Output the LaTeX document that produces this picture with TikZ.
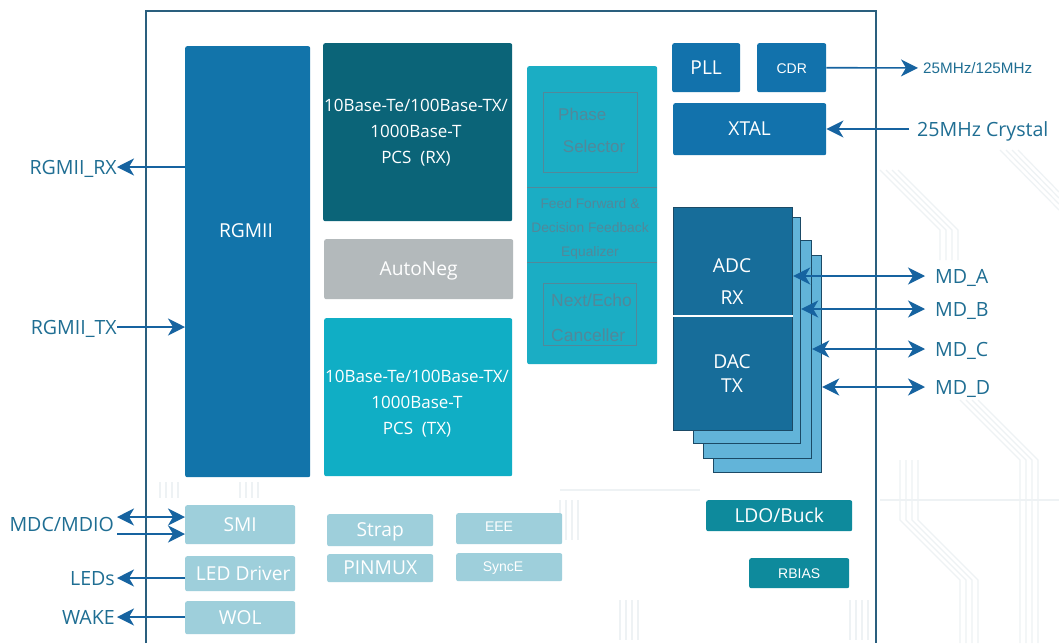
\documentclass[tikz,border=0pt]{standalone}
\usepackage{fontspec}
\setmainfont{Open Sans}
\newfontfamily\arialf{Liberation Sans}
\usetikzlibrary{arrows.meta}
\definecolor{cRgmii}{HTML}{1274AA}
\definecolor{cPcsRx}{HTML}{0B6478}
\definecolor{cAuto}{HTML}{B3B9BB}
\definecolor{cPcsTx}{HTML}{10AEC5}
\definecolor{cDsp}{HTML}{1BADC4}
\definecolor{cGhost}{HTML}{52889A}
\definecolor{cClk}{HTML}{1272AC}
\definecolor{cFront}{HTML}{176D9A}
\definecolor{cBack}{HTML}{62B4D9}
\definecolor{cEdge}{HTML}{1B4A66}
\definecolor{cLight}{HTML}{9ECFDB}
\definecolor{cPwr}{HTML}{0E8A9C}
\definecolor{cArrow}{HTML}{1663A0}
\definecolor{cLbl}{HTML}{1F6E93}
\definecolor{cChip}{HTML}{2A5F7E}
\definecolor{cTrace}{HTML}{EEF2F4}
\tikzset{
  blk/.style={rectangle, rounded corners=2pt, inner sep=0pt, anchor=north west, draw=none},
  txt/.style={text=white, inner sep=0pt, font=\fontsize{19.2}{22}\selectfont, text height=13.5pt, text depth=0pt},
  mtxt/.style={text=white, inner sep=0pt, align=center, font=\fontsize{17}{26}\selectfont},
  atxt/.style={text=white, inner sep=0pt, font=\arialf\fontsize{14}{17}\selectfont, text height=10pt, text depth=0pt},
  gtxt/.style={text=cGhost, inner sep=0pt, font=\arialf\fontsize{17}{32}\selectfont, align=left},
  lbl/.style={text=cLbl, inner sep=0pt, font=\fontsize{19.6}{22}\selectfont, text height=14pt, text depth=0pt},
  conn/.style={draw=cArrow, line width=1.6pt, -{Stealth[length=17pt,width=17pt,inset=5pt]}},
  dconn/.style={draw=cArrow, line width=1.6pt, {Stealth[length=17pt,width=17pt,inset=5pt]}-{Stealth[length=17pt,width=17pt,inset=5pt]}},
  layer/.style={blk, rounded corners=0pt, fill=cBack, draw=cEdge, line width=1.2pt},
  trace/.style={draw=cTrace, line width=1.2pt},
  ghostline/.style={draw=cGhost, line width=1pt},
  ghostbox/.style={rectangle, inner sep=0pt, anchor=north west, draw=cGhost, line width=1pt},
}
\begin{document}
\begin{tikzpicture}[x=1pt,y=-1pt]
\useasboundingbox[fill=white] (0,0) rectangle (1059,643);

% faint circuit traces in the background
\foreach \d in {0,6,12,18} {
  \draw[trace] (880+\d,170) -- (940+\d,230) -- (940+\d,260);
  \draw[trace] (960+\d,400) -- (1020+\d,460) -- (1020+\d,643);
  \draw[trace] (900+\d,460) -- (900+\d,520) -- (960+\d,580) -- (960+\d,643);
  \draw[trace] (1000+\d,150) -- (1059,210-\d);
  \draw[trace] (160+\d,482) -- (160+\d,498);
  \draw[trace] (240+\d,482) -- (240+\d,498);
  \draw[trace] (560+\d,500) -- (560+\d,540);
  \draw[trace] (620+\d,600) -- (620+\d,640);
  \draw[trace] (850+\d,600) -- (850+\d,640);
}
\draw[trace] (880,500) -- (1059,500);
\draw[trace] (560,490) -- (700,490);

% chip outline
\draw[cChip, line width=1.2pt] (146,643) -- (146,11) -- (876,11) -- (876,643);

% main blocks
\node[blk, fill=cRgmii, minimum width=125, minimum height=431] (rgmii) at (185,46) {};
\node[txt] (rgmiit) at (246,231) {RGMII};

\node[blk, fill=cPcsRx, minimum width=189, minimum height=178] (pcsrx) at (323,43) {};
\node[mtxt] (pcsrxt) at (416,133) {10Base-Te/100Base-TX/\\1000Base-T\\PCS~~(RX)};

\node[blk, fill=cAuto, minimum width=189, minimum height=60] (auto) at (324,239) {};
\node[txt] (autot) at (auto.center) {AutoNeg};

\node[blk, fill=cPcsTx, minimum width=188, minimum height=158] (pcstx) at (324,318) {};
\node[mtxt] (pcstxt) at (417,404) {10Base-Te/100Base-TX/\\1000Base-T\\PCS~~(TX)};

% DSP column
\node[blk, fill=cDsp, minimum width=130, minimum height=298] (dsp) at (527,66) {};
\draw[ghostline] (dsp.west |- 0,187) -- (dsp.east |- 0,187);
\draw[ghostline] (dsp.west |- 0,262) -- (dsp.east |- 0,262);
\node[ghostbox, minimum width=94, minimum height=80] (phbox) at (543,92) {};
\node[gtxt, anchor=west] (pht) at (558,130) {Phase\\\ Selector};
\node[gtxt, align=center, font=\arialf\fontsize{13.8}{24}\selectfont] (fft) at (590,229) {Feed Forward \&\\Decision Feedback\\Equalizer};
\node[ghostbox, minimum width=93, minimum height=62] (nebox) at (543,283) {};
\node[gtxt, anchor=west, font=\arialf\fontsize{17.5}{35}\selectfont] (net) at (551,318) {Next/Echo\\Canceller};

% clock blocks
\node[blk, fill=cClk, minimum width=68, minimum height=49] (pll) at (672,43) {};
\node[txt] (pllt) at (pll.center) {PLL};
\node[blk, fill=cClk, minimum width=69, minimum height=49] (cdr) at (757,43) {};
\node[atxt] (cdrt) at ([yshift=-1]cdr.center) {CDR};
\node[blk, fill=cClk, minimum width=153, minimum height=52] (xtal) at (673,103) {};
\node[txt] (xtalt) at (xtal.center) {XTAL};

% ADC/DAC stack
\node[layer, minimum width=108, minimum height=217] (l4) at (713,255) {};
\node[layer, minimum width=108, minimum height=218] (l3) at (703,240) {};
\node[layer, minimum width=107, minimum height=226] (l2) at (693,217) {};
\node[layer, fill=cFront, minimum width=119, minimum height=223] (front) at (673,207) {};
\draw[white, line width=1.5pt] (front.west |- 0,316) -- (front.east |- 0,316);
\node[txt] (adct) at (732,266) {ADC};
\node[txt] (rxt) at (732,298) {RX};
\node[txt] (dact) at (732,362) {DAC};
\node[txt] (txt1) at (732,386) {TX};

% lower blocks
\node[blk, fill=cLight, minimum width=110, minimum height=39] (smi) at (185,505) {};
\node[txt] (smit) at (smi.center) {SMI};
\node[blk, fill=cLight, minimum width=110, minimum height=35] (led) at (185,556) {};
\node[txt] (ledt) at ([xshift=3]led.center) {LED Driver};
\node[blk, fill=cLight, minimum width=110, minimum height=33] (wol) at (185,601) {};
\node[txt] (wolt) at (wol.center) {WOL};

\node[blk, fill=cLight, minimum width=106, minimum height=32] (strap) at (327,514) {};
\node[txt] (strapt) at (strap.center) {Strap};
\node[blk, fill=cLight, minimum width=106, minimum height=28] (pinmux) at (327,554) {};
\node[txt] (pinmuxt) at (pinmux.center) {PINMUX};
\node[blk, fill=cLight, minimum width=106, minimum height=31] (eee) at (456,513) {};
\node[atxt] (eeet) at (499,526) {EEE};
\node[blk, fill=cLight, minimum width=106, minimum height=28] (synce) at (456,553) {};
\node[atxt] (syncet) at (503,566) {SyncE};

\node[blk, fill=cPwr, minimum width=146, minimum height=31] (ldo) at (706,500) {};
\node[txt] (ldot) at (ldo.center) {LDO/Buck};
\node[blk, fill=cPwr, minimum width=100, minimum height=30] (rbias) at (749,558) {};
\node[atxt] (rbiast) at (rbias.center) {RBIAS};

% left labels and connectors
\node[lbl, anchor=east] (rgrx) at (117,167) {RGMII\_RX};
\draw[conn] (rgmii.west |- rgrx.east) -- (rgrx.east);
\node[lbl, anchor=east] (rgtx) at (117,327) {RGMII\_TX};
\draw[conn] (rgtx.east) -- (rgmii.west |- rgtx.east);

\node[lbl, anchor=east] (mdc) at (114,524) {MDC/MDIO};
\coordinate (mdc1) at (117,517);
\coordinate (mdc2) at (117,534);
\draw[dconn] (mdc1) -- (smi.west |- mdc1);
\draw[conn] (mdc2) -- (smi.west |- mdc2);

\node[lbl, anchor=east] (leds) at (115,578) {LEDs};
\draw[conn] (led.west |- leds.east) -- ([xshift=2]leds.east);
\node[lbl, anchor=east] (wake) at (115,617) {WAKE};
\draw[conn] (wol.west |- wake.east) -- ([xshift=2]wake.east);

% right labels and connectors
\node[text=cLbl, inner sep=0pt, font=\arialf\fontsize{15.2}{18}\selectfont, text height=11pt, text depth=0pt, anchor=west] (clk) at (923,68) {25MHz/125MHz};
\draw[conn, shorten >=5pt] (cdr.east) -- (clk.west);
\node[lbl, anchor=west] (xtl) at (917,129) {25MHz Crystal};
\draw[conn] ([xshift=-8]xtl.west) -- (xtal.east |- xtl.west);

\node[lbl, anchor=west] (mda) at (935,276) {MD\_A};
\draw[dconn, shorten >=10pt] (front.east |- mda.west) -- (mda.west);
\node[lbl, anchor=west] (mdb) at (935,309) {MD\_B};
\draw[dconn, shorten >=10pt] (l2.east |- mdb.west) -- (mdb.west);
\node[lbl, anchor=west] (mdcc) at (935,349) {MD\_C};
\draw[dconn, shorten >=10pt] (l3.east |- mdcc.west) -- (mdcc.west);
\node[lbl, anchor=west] (mdd) at (935,387) {MD\_D};
\draw[dconn, shorten >=10pt] (l4.east |- mdd.west) -- (mdd.west);
\end{tikzpicture}
\end{document}
